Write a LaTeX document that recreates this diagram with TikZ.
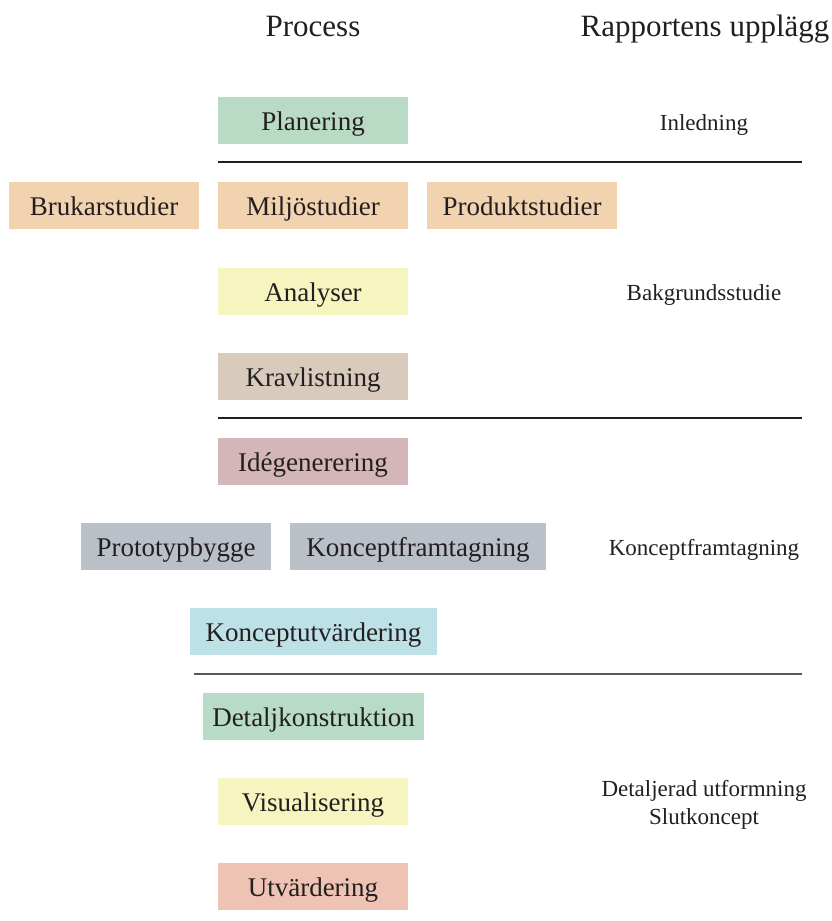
\documentclass[tikz,border=0pt]{standalone}
\usepackage{fontspec}
\setmainfont{Liberation Serif}
\definecolor{cPlan}{HTML}{B9DBC5}
\definecolor{cOrange}{HTML}{F2D3B0}
\definecolor{cYellow}{HTML}{F6F5BF}
\definecolor{cKrav}{HTML}{D8CBBB}
\definecolor{cIde}{HTML}{D4B6B8}
\definecolor{cGray}{HTML}{BAC0C8}
\definecolor{cBlue}{HTML}{BEE1E7}
\definecolor{cDet}{HTML}{B7DBC6}
\definecolor{cUtv}{HTML}{EEC3B4}
\definecolor{cText}{HTML}{231F20}
\tikzset{
  box/.style={fill=#1, inner sep=0pt, minimum height=47pt, minimum width=190pt,
    font=\fontsize{27}{30}\selectfont, text=cText, text height=21pt, text depth=2pt},
  head/.style={font=\fontsize{31}{34}\selectfont, text=cText, inner sep=0pt, anchor=base},
  side/.style={font=\fontsize{23}{28}\selectfont, text=cText, inner sep=0pt, align=center, anchor=base},
  sep/.style={draw=cText, line width=1.4pt}
}
\begin{document}
\begin{tikzpicture}[x=1pt,y=-1pt]
\useasboundingbox (0,0) rectangle (831,921);
% headers
\node[head] (hproc) at (313,36) {Process};
\node[head] (hrap) at (705,36) {Rapportens upplägg};
% boxes
\node[box=cPlan] (plan) at (313,120.5) {Planering};
\node[box=cOrange] (bruk) at (104,205.5) {Brukarstudier};
\node[box=cOrange] (milj) at (313,205.5) {Miljöstudier};
\node[box=cOrange] (prod) at (522,205.5) {Produktstudier};
\node[box=cYellow] (anal) at (313,291.5) {Analyser};
\node[box=cKrav] (krav) at (313,376.5) {Kravlistning};
\node[box=cIde] (ide) at (313,461.5) {Idégenerering};
\node[box=cGray] (proto) at (176,546.5) {Prototypbygge};
\node[box=cGray, minimum width=256pt] (konc) at (418,546.5) {Konceptframtagning};
\node[box=cBlue, minimum width=247pt] (kutv) at (313.5,631.5) {Konceptutvärdering};
\node[box=cDet, minimum width=221pt] (detk) at (313.5,716.5) {Detaljkonstruktion};
\node[box=cYellow] (vis) at (313,801.5) {Visualisering};
\node[box=cUtv] (utv) at (313,886.5) {Utvärdering};
% side labels
\node[side] (sinl) at (704,130) {Inledning};
\node[side] (sbak) at (704,300) {Bakgrundsstudie};
\node[side] (skon) at (704,555) {Konceptframtagning};
\node[side] (sdet1) at (704,796) {Detaljerad utformning};
\node[side] (sdet2) at (704,824) {Slutkoncept};
% separators
\coordinate (l1a) at (218,162); \coordinate (l1b) at (802,162);
\coordinate (l2a) at (218,418); \coordinate (l2b) at (802,418);
\coordinate (l3a) at (194,674); \coordinate (l3b) at (802,674);
\draw[sep] (l1a) -- (l1b);
\draw[sep] (l2a) -- (l2b);
\draw[sep, draw=cText!75] (l3a) -- (l3b);
\end{tikzpicture}
\end{document}
